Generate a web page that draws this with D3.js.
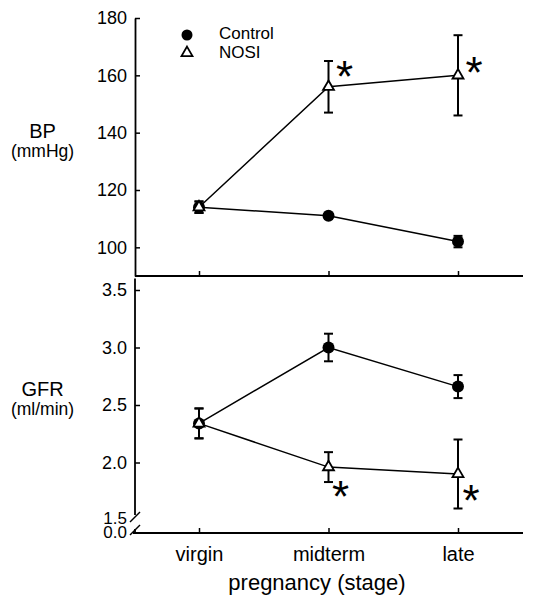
<!DOCTYPE html>
<html>
<head>
<meta charset="utf-8">
<script src="https://cdn.jsdelivr.net/npm/d3@7"></script>
<style>
  html, body { margin: 0; padding: 0; background: #fff; }
  svg { display: block; font-family: "Liberation Sans", Arial, sans-serif; }
</style>
</head>
<body>
<svg id="chart" width="535" height="607"></svg>
<script>
// ---- data ----
const categories = ["virgin", "midterm", "late"];
const seriesNames = ["Control", "NOSI"];

const bpControl = [114, 111, 102];
const bpControlErr = [2, 1, 2];
const bpNosi = [114, 156, 160];
const bpNosiErr = [2, 9, 14];

const gfrControl = [2.34, 3.00, 2.66];
const gfrControlErr = [0.13, 0.12, 0.10];
const gfrNosi = [2.34, 1.96, 1.90];
const gfrNosiErr = [0.13, 0.13, 0.30];

const bpTicks = [100, 120, 140, 160, 180];
const gfrTicks = [1.5, 2.0, 2.5, 3.0, 3.5];
const gfrBreakLabel = "0.0";

// significance markers: [category index]
const bpSig = [1, 2];
const gfrSig = [1, 2];

// ---- layout ----
const svg = d3.select("#chart");
const axisX = 135, rightX = 523;
const x = d3.scalePoint().domain(categories).range([199, 458]);
const yBP = d3.scaleLinear().domain([90, 180]).range([276, 18]);
const yGFR = d3.scaleLinear().domain([1.5, 3.6]).range([520, 278.5]);
const bottomY = 533;

const tickFont = "18px";

function styleAxis(g) {
  g.selectAll("text").attr("font-size", tickFont).attr("fill", "#000")
    .attr("font-family", '"Liberation Sans", Arial, sans-serif');
  g.selectAll("line").attr("stroke", "#000").attr("stroke-width", 1.5);
  g.selectAll(".domain").attr("stroke", "#000").attr("stroke-width", 1.8);
}

// Top panel y axis
const gYBP = svg.append("g").attr("transform", `translate(${axisX},0)`)
  .call(d3.axisLeft(yBP).tickValues(bpTicks).tickSize(-5).tickSizeOuter(0).tickPadding(8));
styleAxis(gYBP);

// Top panel x axis (ticks only)
const gXBP = svg.append("g").attr("transform", `translate(0,${yBP(90)})`)
  .call(d3.axisBottom(x).tickSize(-5).tickFormat(""));
gXBP.select(".domain").remove();
styleAxis(gXBP);
svg.append("line").attr("x1", axisX).attr("x2", rightX)
  .attr("y1", yBP(90)).attr("y2", yBP(90)).attr("stroke", "#000").attr("stroke-width", 1.8);

// Bottom panel y axis
const gYG = svg.append("g").attr("transform", `translate(${axisX},0)`)
  .call(d3.axisLeft(yGFR).tickValues(gfrTicks).tickSize(-5).tickSizeOuter(0).tickPadding(8)
    .tickFormat(d3.format(".1f")));
gYG.select(".domain").remove();
styleAxis(gYG);
const t15 = gYG.selectAll(".tick").filter(d => d === 1.5);
t15.select("line").remove();
t15.select("text").attr("font-size", "17px").attr("dy", "0.22em");
svg.append("line").attr("x1", axisX).attr("x2", axisX)
  .attr("y1", yGFR(3.6)).attr("y2", 515).attr("stroke", "#000").attr("stroke-width", 1.8);
// axis break marks
svg.append("line").attr("x1", 130).attr("y1", 522).attr("x2", 140).attr("y2", 512)
  .attr("stroke", "#000").attr("stroke-width", 1.5);
svg.append("line").attr("x1", 130).attr("y1", 535).attr("x2", 140).attr("y2", 525)
  .attr("stroke", "#000").attr("stroke-width", 1.5);
svg.append("line").attr("x1", axisX).attr("x2", axisX).attr("y1", 529).attr("y2", bottomY)
  .attr("stroke", "#000").attr("stroke-width", 1.8);
svg.append("text").attr("x", axisX - 8).attr("y", bottomY).attr("dy", "0.3em")
  .attr("text-anchor", "end").attr("font-size", "17px").text(gfrBreakLabel);

// Bottom x axis
const gXG = svg.append("g").attr("transform", `translate(0,${bottomY})`)
  .call(d3.axisBottom(x).tickSize(-5).tickPadding(14));
gXG.select(".domain").remove();
styleAxis(gXG);
gXG.selectAll("text").attr("font-size", "20px");
svg.append("line").attr("x1", 133).attr("x2", rightX)
  .attr("y1", bottomY).attr("y2", bottomY).attr("stroke", "#000").attr("stroke-width", 1.8);

// Axis titles
svg.append("text").attr("x", 317).attr("y", 590).attr("text-anchor", "middle")
  .attr("font-size", "22px").text("pregnancy (stage)");
svg.append("text").attr("x", 42.5).attr("y", 138).attr("text-anchor", "middle")
  .attr("font-size", "20px").text("BP");
svg.append("text").attr("x", 42.5).attr("y", 157).attr("text-anchor", "middle")
  .attr("font-size", "17.5px").text("(mmHg)");
svg.append("text").attr("x", 42.5).attr("y", 396).attr("text-anchor", "middle")
  .attr("font-size", "20px").text("GFR");
svg.append("text").attr("x", 42.5).attr("y", 415).attr("text-anchor", "middle")
  .attr("font-size", "17.5px").text("(ml/min)");

// ---- marks ----
const tri = d3.symbol().type(d3.symbolTriangle).size(52);

function drawSeries(yScale, values) {
  const g = svg.append("g");
  const line = d3.line().x((d, i) => x(categories[i])).y(d => yScale(d));
  g.append("path").attr("d", line(values)).attr("fill", "none")
    .attr("stroke", "#000").attr("stroke-width", 1.5);
  return g;
}
function drawBars(g, yScale, values, errs) {
  values.forEach((v, i) => {
    const cx = x(categories[i]);
    const y1 = yScale(v + errs[i]), y2 = yScale(v - errs[i]);
    g.append("line").attr("x1", cx).attr("x2", cx).attr("y1", y1).attr("y2", y2)
      .attr("stroke", "#000").attr("stroke-width", 2);
    [y1, y2].forEach(yy => g.append("line").attr("x1", cx - 4.5).attr("x2", cx + 4.5)
      .attr("y1", yy).attr("y2", yy).attr("stroke", "#000").attr("stroke-width", 2));
  });
}
function drawMarkers(g, yScale, values, kind) {
  values.forEach((v, i) => {
    const cx = x(categories[i]), cy = yScale(v);
    if (kind === "circle") {
      g.append("circle").attr("cx", cx).attr("cy", cy).attr("r", 6).attr("fill", "#000");
    } else {
      g.append("path").attr("d", tri()).attr("transform", `translate(${cx},${cy})`)
        .attr("fill", "#fff").attr("stroke", "#000").attr("stroke-width", 1.8);
    }
  });
}

function panel(yScale, c, cErr, n, nErr) {
  const gc = drawSeries(yScale, c);
  const gn = drawSeries(yScale, n);
  drawBars(gc, yScale, c, cErr);
  drawBars(gn, yScale, n, nErr);
  const gm = svg.append("g");
  drawMarkers(gm, yScale, c, "circle");
  drawMarkers(gm, yScale, n, "tri");
}
panel(yBP, bpControl, bpControlErr, bpNosi, bpNosiErr);
panel(yGFR, gfrControl, gfrControlErr, gfrNosi, gfrNosiErr);

// significance asterisks (glyph centre at cx, cy)
const starSize = 44;
function star(cx, cy) {
  svg.append("text").attr("x", cx).attr("y", cy + 0.575 * starSize)
    .attr("text-anchor", "middle").attr("font-size", starSize + "px").text("*");
}
star(x(categories[bpSig[0]]) + 16, yBP(bpNosi[bpSig[0]]) - 20);
star(x(categories[bpSig[1]]) + 16, yBP(bpNosi[bpSig[1]]) - 13);
star(x(categories[gfrSig[0]]) + 12, yGFR(gfrNosi[gfrSig[0]]) + 20);
star(x(categories[gfrSig[1]]) + 13, yGFR(gfrNosi[gfrSig[1]]) + 17);

// legend
const lg = svg.append("g");
lg.append("circle").attr("cx", 187).attr("cy", 35).attr("r", 5.5).attr("fill", "#000");
lg.append("path").attr("d", tri()).attr("transform", "translate(187,53)")
  .attr("fill", "#fff").attr("stroke", "#000").attr("stroke-width", 1.8);
lg.append("text").attr("x", 219).attr("y", 39).attr("font-size", "17px").text(seriesNames[0]);
lg.append("text").attr("x", 219).attr("y", 58).attr("font-size", "17px").text(seriesNames[1]);
</script>
</body>
</html>
